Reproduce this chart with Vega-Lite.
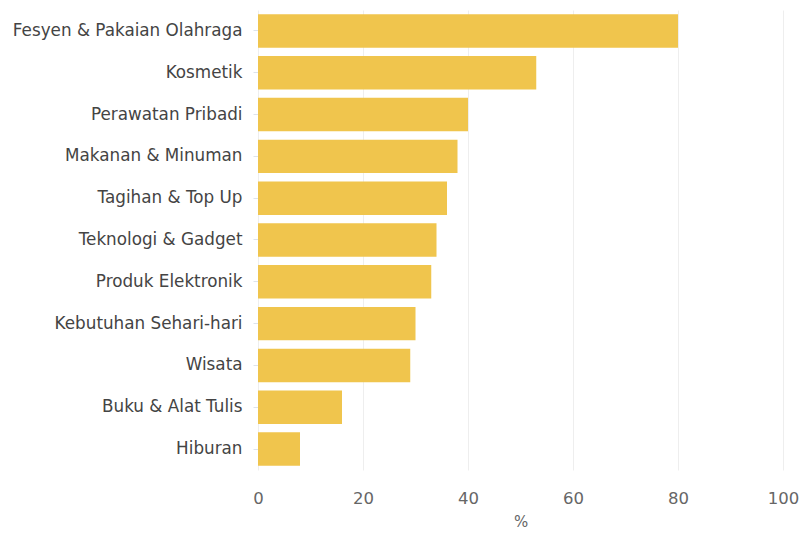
{
  "$schema": "https://vega.github.io/schema/vega-lite/v6.json",
  "width": 525,
  "height": 460,
  "autosize": {"type": "none"},
  "padding": {"left": 258, "top": 10, "right": 20, "bottom": 65},
  "background": "white",
  "data": {"values": [
    {"kategori": "Fesyen & Pakaian Olahraga", "persen": 80},
    {"kategori": "Kosmetik", "persen": 53},
    {"kategori": "Perawatan Pribadi", "persen": 40},
    {"kategori": "Makanan & Minuman", "persen": 38},
    {"kategori": "Tagihan & Top Up", "persen": 36},
    {"kategori": "Teknologi & Gadget", "persen": 34},
    {"kategori": "Produk Elektronik", "persen": 33},
    {"kategori": "Kebutuhan Sehari-hari", "persen": 30},
    {"kategori": "Wisata", "persen": 29},
    {"kategori": "Buku & Alat Tulis", "persen": 16},
    {"kategori": "Hiburan", "persen": 8}
  ]},
  "mark": {"type": "bar", "color": "#F0C54D"},
  "encoding": {
    "y": {
      "field": "kategori", "type": "nominal", "sort": null,
      "scale": {"paddingInner": 0.2, "paddingOuter": 0.1},
      "axis": {"title": null, "domain": false, "ticks": true, "tickSize": 5, "tickColor": "#dde3ea", "labelPadding": 11, "labelFont": "DejaVu Sans", "labelFontSize": 16.8, "labelColor": "#444444", "labelLimit": 300}
    },
    "x": {
      "field": "persen", "type": "quantitative",
      "scale": {"domain": [0, 100], "nice": false},
      "axis": {"title": "%", "values": [0, 20, 40, 60, 80, 100], "domain": false, "ticks": false, "grid": true, "gridColor": "#eeeeee", "labelFlush": false, "labelPadding": 20, "labelFont": "DejaVu Sans", "labelFontSize": 16.5, "labelColor": "#666666", "titleFont": "DejaVu Sans", "titleFontSize": 15, "titleFontWeight": "normal", "titleColor": "#666666", "titlePadding": 8}
    }
  },
  "config": {"view": {"stroke": null}}
}
